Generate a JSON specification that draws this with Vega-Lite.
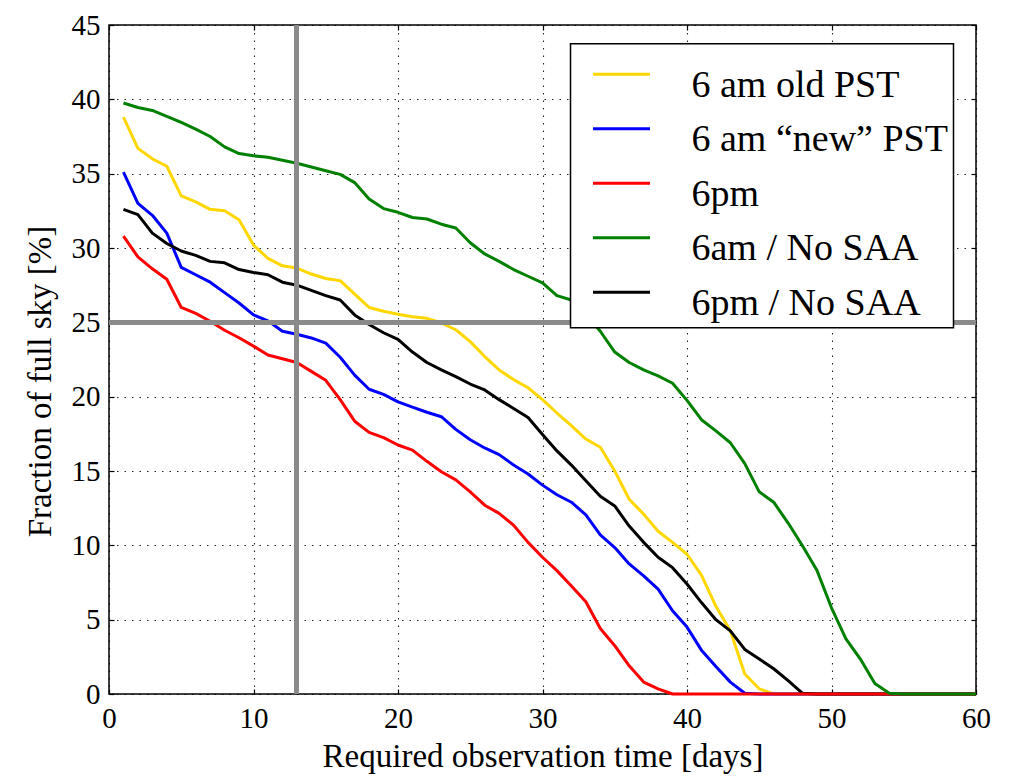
{
  "$schema": "https://vega.github.io/schema/vega-lite/v6.json",
  "width": 867,
  "height": 669,
  "autosize": {"type": "none"},
  "padding": {"left": 109, "top": 25, "right": 37, "bottom": 84},
  "background": "white",
  "config": {
    "font": "Liberation Serif",
    "view": {"stroke": "black", "strokeWidth": 1.5},
    "axis": {
      "domain": false,
      "labelFlush": false,
      "labelFont": "Liberation Serif",
      "labelFontSize": 29,
      "labelColor": "black",
      "tickColor": "black",
      "tickWidth": 1.2,
      "tickSize": -5,
      "titleFont": "Liberation Serif",
      "titleFontSize": 33,
      "titleFontWeight": "normal",
      "titleColor": "black",
      "gridColor": "black",
      "gridOpacity": 0.85,
      "gridWidth": 1.1,
      "gridDash": [1.5, 6]
    },
    "legend": {
      "strokeWidth": 1.5
    }
  },
  "data": {
    "values": [
      {"day": 1, "6 am old PST": 38.8, "6 am “new” PST": 35.1, "6pm": 30.8, "6am / No SAA": 39.75, "6pm / No SAA": 32.6},
      {"day": 2, "6 am old PST": 36.7, "6 am “new” PST": 33.0, "6pm": 29.4, "6am / No SAA": 39.45, "6pm / No SAA": 32.25},
      {"day": 3, "6 am old PST": 36.0, "6 am “new” PST": 32.2, "6pm": 28.6, "6am / No SAA": 39.25, "6pm / No SAA": 31.0},
      {"day": 4, "6 am old PST": 35.5, "6 am “new” PST": 31.0, "6pm": 27.9, "6am / No SAA": 38.85, "6pm / No SAA": 30.3},
      {"day": 5, "6 am old PST": 33.5, "6 am “new” PST": 28.7, "6pm": 26.0, "6am / No SAA": 38.45, "6pm / No SAA": 29.8},
      {"day": 6, "6 am old PST": 33.1, "6 am “new” PST": 28.2, "6pm": 25.6, "6am / No SAA": 38.0, "6pm / No SAA": 29.5},
      {"day": 7, "6 am old PST": 32.6, "6 am “new” PST": 27.7, "6pm": 25.07, "6am / No SAA": 37.5, "6pm / No SAA": 29.1},
      {"day": 8, "6 am old PST": 32.5, "6 am “new” PST": 27.0, "6pm": 24.47, "6am / No SAA": 36.8, "6pm / No SAA": 29.0},
      {"day": 9, "6 am old PST": 31.9, "6 am “new” PST": 26.3, "6pm": 23.96, "6am / No SAA": 36.35, "6pm / No SAA": 28.55},
      {"day": 10, "6 am old PST": 30.2, "6 am “new” PST": 25.5, "6pm": 23.4, "6am / No SAA": 36.2, "6pm / No SAA": 28.35},
      {"day": 11, "6 am old PST": 29.3, "6 am “new” PST": 25.1, "6pm": 22.8, "6am / No SAA": 36.1, "6pm / No SAA": 28.2},
      {"day": 12, "6 am old PST": 28.8, "6 am “new” PST": 24.4, "6pm": 22.55, "6am / No SAA": 35.9, "6pm / No SAA": 27.7},
      {"day": 13, "6 am old PST": 28.65, "6 am “new” PST": 24.2, "6pm": 22.3, "6am / No SAA": 35.7, "6pm / No SAA": 27.5},
      {"day": 14, "6 am old PST": 28.25, "6 am “new” PST": 23.95, "6pm": 21.7, "6am / No SAA": 35.45, "6pm / No SAA": 27.15},
      {"day": 15, "6 am old PST": 27.95, "6 am “new” PST": 23.6, "6pm": 21.1, "6am / No SAA": 35.2, "6pm / No SAA": 26.8},
      {"day": 16, "6 am old PST": 27.8, "6 am “new” PST": 22.65, "6pm": 19.8, "6am / No SAA": 34.95, "6pm / No SAA": 26.5},
      {"day": 17, "6 am old PST": 26.9, "6 am “new” PST": 21.45, "6pm": 18.35, "6am / No SAA": 34.4, "6pm / No SAA": 25.5},
      {"day": 18, "6 am old PST": 26.0, "6 am “new” PST": 20.5, "6pm": 17.6, "6am / No SAA": 33.3, "6pm / No SAA": 24.85},
      {"day": 19, "6 am old PST": 25.75, "6 am “new” PST": 20.15, "6pm": 17.25, "6am / No SAA": 32.65, "6pm / No SAA": 24.3},
      {"day": 20, "6 am old PST": 25.55, "6 am “new” PST": 19.65, "6pm": 16.75, "6am / No SAA": 32.4, "6pm / No SAA": 23.85},
      {"day": 21, "6 am old PST": 25.37, "6 am “new” PST": 19.3, "6pm": 16.4, "6am / No SAA": 32.05, "6pm / No SAA": 23.0},
      {"day": 22, "6 am old PST": 25.27, "6 am “new” PST": 18.95, "6pm": 15.65, "6am / No SAA": 31.95, "6pm / No SAA": 22.3},
      {"day": 23, "6 am old PST": 24.97, "6 am “new” PST": 18.65, "6pm": 14.95, "6am / No SAA": 31.6, "6pm / No SAA": 21.8},
      {"day": 24, "6 am old PST": 24.5, "6 am “new” PST": 17.8, "6pm": 14.4, "6am / No SAA": 31.35, "6pm / No SAA": 21.35},
      {"day": 25, "6 am old PST": 23.7, "6 am “new” PST": 17.1, "6pm": 13.6, "6am / No SAA": 30.35, "6pm / No SAA": 20.85},
      {"day": 26, "6 am old PST": 22.7, "6 am “new” PST": 16.55, "6pm": 12.7, "6am / No SAA": 29.6, "6pm / No SAA": 20.45},
      {"day": 27, "6 am old PST": 21.8, "6 am “new” PST": 16.1, "6pm": 12.15, "6am / No SAA": 29.1, "6pm / No SAA": 19.8},
      {"day": 28, "6 am old PST": 21.15, "6 am “new” PST": 15.4, "6pm": 11.35, "6am / No SAA": 28.55, "6pm / No SAA": 19.2},
      {"day": 29, "6 am old PST": 20.6, "6 am “new” PST": 14.8, "6pm": 10.2, "6am / No SAA": 28.1, "6pm / No SAA": 18.6},
      {"day": 30, "6 am old PST": 19.8, "6 am “new” PST": 14.05, "6pm": 9.2, "6am / No SAA": 27.65, "6pm / No SAA": 17.45},
      {"day": 31, "6 am old PST": 18.9, "6 am “new” PST": 13.4, "6pm": 8.3, "6am / No SAA": 26.8, "6pm / No SAA": 16.35},
      {"day": 32, "6 am old PST": 18.05, "6 am “new” PST": 12.9, "6pm": 7.27, "6am / No SAA": 26.5, "6pm / No SAA": 15.4},
      {"day": 33, "6 am old PST": 17.15, "6 am “new” PST": 12.05, "6pm": 6.2, "6am / No SAA": 25.6, "6pm / No SAA": 14.35},
      {"day": 34, "6 am old PST": 16.6, "6 am “new” PST": 10.7, "6pm": 4.4, "6am / No SAA": 24.4, "6pm / No SAA": 13.3},
      {"day": 35, "6 am old PST": 15.0, "6 am “new” PST": 9.85, "6pm": 3.25, "6am / No SAA": 23.0, "6pm / No SAA": 12.65},
      {"day": 36, "6 am old PST": 13.1, "6 am “new” PST": 8.75, "6pm": 1.9, "6am / No SAA": 22.3, "6pm / No SAA": 11.3},
      {"day": 37, "6 am old PST": 12.1, "6 am “new” PST": 7.95, "6pm": 0.8, "6am / No SAA": 21.8, "6pm / No SAA": 10.2},
      {"day": 38, "6 am old PST": 10.95, "6 am “new” PST": 7.05, "6pm": 0.35, "6am / No SAA": 21.4, "6pm / No SAA": 9.2},
      {"day": 39, "6 am old PST": 10.2, "6 am “new” PST": 5.6, "6pm": 0, "6am / No SAA": 20.9, "6pm / No SAA": 8.5},
      {"day": 40, "6 am old PST": 9.4, "6 am “new” PST": 4.5, "6pm": 0, "6am / No SAA": 19.75, "6pm / No SAA": 7.4},
      {"day": 41, "6 am old PST": 8.0, "6 am “new” PST": 2.95, "6pm": 0, "6am / No SAA": 18.45, "6pm / No SAA": 6.15},
      {"day": 42, "6 am old PST": 5.9, "6 am “new” PST": 1.85, "6pm": 0, "6am / No SAA": 17.7, "6pm / No SAA": 5.0},
      {"day": 43, "6 am old PST": 4.25, "6 am “new” PST": 0.8, "6pm": 0, "6am / No SAA": 16.9, "6pm / No SAA": 4.25},
      {"day": 44, "6 am old PST": 1.35, "6 am “new” PST": 0.05, "6pm": 0, "6am / No SAA": 15.5, "6pm / No SAA": 3.0},
      {"day": 45, "6 am old PST": 0.35, "6 am “new” PST": 0, "6pm": 0, "6am / No SAA": 13.6, "6pm / No SAA": 2.35},
      {"day": 46, "6 am old PST": 0, "6 am “new” PST": 0, "6pm": 0, "6am / No SAA": 12.9, "6pm / No SAA": 1.7},
      {"day": 47, "6 am old PST": 0, "6 am “new” PST": 0, "6pm": 0, "6am / No SAA": 11.5, "6pm / No SAA": 0.9},
      {"day": 48, "6 am old PST": 0, "6 am “new” PST": 0, "6pm": 0, "6am / No SAA": 9.95, "6pm / No SAA": 0.05},
      {"day": 49, "6 am old PST": 0, "6 am “new” PST": 0, "6pm": 0, "6am / No SAA": 8.3, "6pm / No SAA": 0},
      {"day": 50, "6 am old PST": 0, "6 am “new” PST": 0, "6pm": 0, "6am / No SAA": 5.8, "6pm / No SAA": 0},
      {"day": 51, "6 am old PST": 0, "6 am “new” PST": 0, "6pm": 0, "6am / No SAA": 3.7, "6pm / No SAA": 0},
      {"day": 52, "6 am old PST": 0, "6 am “new” PST": 0, "6pm": 0, "6am / No SAA": 2.35, "6pm / No SAA": 0},
      {"day": 53, "6 am old PST": 0, "6 am “new” PST": 0, "6pm": 0, "6am / No SAA": 0.7, "6pm / No SAA": 0},
      {"day": 54, "6 am old PST": 0, "6 am “new” PST": 0, "6pm": 0, "6am / No SAA": 0.05, "6pm / No SAA": 0},
      {"day": 55, "6 am old PST": 0, "6 am “new” PST": 0, "6pm": 0, "6am / No SAA": 0, "6pm / No SAA": 0},
      {"day": 56, "6 am old PST": 0, "6 am “new” PST": 0, "6pm": 0, "6am / No SAA": 0, "6pm / No SAA": 0},
      {"day": 57, "6 am old PST": 0, "6 am “new” PST": 0, "6pm": 0, "6am / No SAA": 0, "6pm / No SAA": 0},
      {"day": 58, "6 am old PST": 0, "6 am “new” PST": 0, "6pm": 0, "6am / No SAA": 0, "6pm / No SAA": 0},
      {"day": 59, "6 am old PST": 0, "6 am “new” PST": 0, "6pm": 0, "6am / No SAA": 0, "6pm / No SAA": 0},
      {"day": 60, "6 am old PST": 0, "6 am “new” PST": 0, "6pm": 0, "6am / No SAA": 0, "6pm / No SAA": 0}
    ]
  },
  "transform": [
    {"fold": ["6 am old PST", "6 am “new” PST", "6pm / No SAA", "6pm", "6am / No SAA"], "as": ["series", "frac"]}
  ],
  "layer": [
    {
      "mark": {"type": "line", "strokeWidth": 3, "strokeJoin": "round"},
      "encoding": {
        "x": {
          "field": "day",
          "type": "quantitative",
          "scale": {"domain": [0, 60], "nice": false, "zero": false},
          "axis": {
            "orient": "bottom",
            "values": [0, 10, 20, 30, 40, 50, 60],
            "grid": true,
            "labelPadding": 15,
            "title": "Required observation time [days]",
            "titleBaseline": "alphabetic",
            "titleY": 72.7
          }
        },
        "y": {
          "field": "frac",
          "type": "quantitative",
          "scale": {"domain": [0, 45], "nice": false},
          "axis": {
            "orient": "left",
            "values": [0, 5, 10, 15, 20, 25, 30, 35, 40, 45],
            "grid": true,
            "labelPadding": 14,
            "title": "Fraction of full sky [%]",
            "titleBaseline": "alphabetic",
            "titleX": -59,
            "titleY": 356
          }
        },
        "color": {
          "field": "series",
          "type": "nominal",
          "scale": {
            "domain": ["6 am old PST", "6 am “new” PST", "6pm", "6am / No SAA", "6pm / No SAA"],
            "range": ["#ffd700", "#0000ff", "#ff0000", "#008000", "#000000"]
          },
          "legend": {
            "orient": "none",
            "legendX": 461.5,
            "legendY": 18.7,
            "title": " ",
            "titleFontSize": 10,
            "titlePadding": 8,
            "strokeColor": "black",
            "fillColor": "white",
            "padding": 5,
            "symbolType": "M-2,-0.8H2",
            "symbolSize": 812,
            "symbolStrokeWidth": 3,
            "symbolOffset": 27,
            "labelOffset": 51,
            "labelFont": "Liberation Serif",
            "labelFontSize": 38,
            "labelColor": "black",
            "labelBaseline": "middle",
            "labelLimit": 400,
            "rowPadding": 16.5
          }
        }
      }
    },
    {
      "mark": {"type": "rule", "color": "#8a8a8a", "strokeWidth": 4},
      "encoding": {"x": {"datum": 13, "type": "quantitative", "axis": null}}
    },
    {
      "mark": {"type": "rule", "color": "#8a8a8a", "strokeWidth": 4},
      "encoding": {"y": {"datum": 25, "type": "quantitative", "axis": null}}
    },
    {
      "mark": {"type": "point", "opacity": 0},
      "encoding": {
        "x": {
          "field": "day",
          "type": "quantitative",
          "scale": {"domain": [0, 60], "nice": false, "zero": false},
          "axis": {"orient": "top", "values": [0, 10, 20, 30, 40, 50, 60], "labels": false, "grid": false, "title": null}
        },
        "y": {
          "field": "frac",
          "type": "quantitative",
          "scale": {"domain": [0, 45], "nice": false},
          "axis": {"orient": "right", "values": [0, 5, 10, 15, 20, 25, 30, 35, 40, 45], "labels": false, "grid": false, "title": null}
        }
      }
    }
  ],
  "resolve": {"axis": {"x": "independent", "y": "independent"}}
}
